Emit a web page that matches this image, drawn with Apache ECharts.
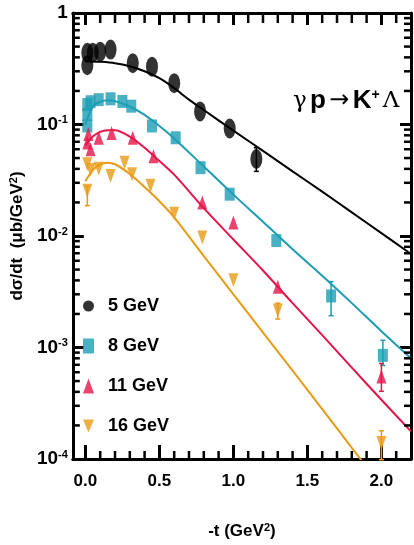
<!DOCTYPE html>
<html>
<head>
<meta charset="utf-8">
<script src="https://cdn.jsdelivr.net/npm/echarts@6/dist/echarts.min.js"></script>
<style>
html,body{margin:0;padding:0;background:#fff;}
#chart{width:414px;height:545px;}
</style>
</head>
<body>
<div id="chart"></div>
<script>
// ---- data (t in GeV^2, dsigma/dt in ub/GeV^2) ----
var seriesNames = ['5 GeV', '8 GeV', '11 GeV', '16 GeV'];

var pts5 = [[0.013,0.44],[0.013,0.34],[0.05,0.44],[0.10,0.45],[0.17,0.47],[0.32,0.355],[0.45,0.33],[0.60,0.235],[0.775,0.131],[0.975,0.092],[1.155,0.049]];
var pts8 = [[0.013,0.151],[0.013,0.123],[0.013,0.097],[0.035,0.16],[0.09,0.167],[0.17,0.17],[0.25,0.161],[0.31,0.146],[0.45,0.097],[0.61,0.076],[0.778,0.041],[0.975,0.0237],[1.29,0.0091],[1.66,0.0029],[2.01,0.00085]];
var pts11 = [[0.013,0.069],[0.02,0.082],[0.035,0.060],[0.09,0.076],[0.177,0.084],[0.32,0.076],[0.46,0.052],[0.79,0.020],[1.0,0.0132],[1.30,0.0035],[2.0,0.00055]];
var pts16 = [[0.013,0.0254],[0.013,0.044],[0.035,0.039],[0.09,0.040],[0.17,0.0346],[0.265,0.0455],[0.315,0.0358],[0.44,0.0282],[0.60,0.0158],[0.79,0.0097],[1.0,0.0040],[1.30,0.00215],[2.0,0.000139]];

// error bars: [t, low, high]
var err5 = [[1.155,0.038,0.062]];
var err8 = [[1.66,0.00193,0.0039],[2.01,0.00069,0.00116]];
var err11 = [[2.0,0.000405,0.00072]];
var err16 = [[0.013,0.0187,0.028],[1.30,0.0018,0.0025],[2.0,0.0000986,0.000179]];

// model curves
var curve5 = [[0.0,0.37],[0.1,0.365],[0.2,0.355],[0.3,0.333],[0.4,0.30],[0.5,0.26],[0.6,0.212],[0.7,0.167],[0.8,0.135],[1.0,0.088],[1.2,0.058],[1.4,0.038],[1.6,0.025],[1.8,0.0163],[2.0,0.0106],[2.2,0.0069]];
var curve8 = [[0.0,0.10],[0.05,0.145],[0.1,0.16],[0.15,0.165],[0.2,0.162],[0.3,0.145],[0.4,0.122],[0.5,0.097],[0.6,0.075],[0.8,0.042],[1.0,0.0235],[1.2,0.0134],[1.4,0.0076],[1.6,0.0044],[1.8,0.0025],[2.0,0.0014],[2.2,0.0008]];
var curve11 = [[0.0,0.065],[0.05,0.078],[0.1,0.086],[0.15,0.089],[0.2,0.089],[0.3,0.078],[0.4,0.062],[0.5,0.047],[0.6,0.0355],[0.8,0.0178],[1.0,0.0093],[1.2,0.0049],[1.4,0.0025],[1.6,0.00129],[1.8,0.00066],[2.0,0.00034],[2.2,0.000177]];
var curve16 = [[0.0,0.031],[0.05,0.039],[0.1,0.044],[0.15,0.0455],[0.2,0.044],[0.3,0.036],[0.4,0.0275],[0.5,0.0205],[0.6,0.0147],[0.8,0.0066],[1.0,0.0030],[1.2,0.00136],[1.4,0.00062],[1.6,0.00028],[1.8,0.000126],[1.9,0.000085]];

// axis ranges and ticks
var xMin = -0.085, xMax = 2.2, yMin = 1e-4, yMax = 1;
var xMajor = [0, 0.5, 1.0, 1.5, 2.0];
var xMinor = [0.1,0.2,0.3,0.4,0.6,0.7,0.8,0.9,1.1,1.2,1.3,1.4,1.6,1.7,1.8,1.9,2.1];
var yDecadeValues = [1e-4, 1e-3, 1e-2, 1e-1];
var yMinorMultipliers = [2, 3, 4, 5, 6, 7, 8, 9];

var yMinorTicks = [];
yDecadeValues.forEach(function (d) { yMinorMultipliers.forEach(function (m) { yMinorTicks.push([0.5, d * m]); }); });
var xMinorTicks = xMinor.map(function (v) { return [v, 0.01]; });

var colors = ['#000000', '#1b9db4', '#e5154a', '#e89b14'];
var FONT = '"Liberation Sans", Arial, sans-serif';

var chart = echarts.init(document.getElementById('chart'), null, {renderer: 'canvas'});

function errSeries(data, color) {
  return {
    type: 'custom', xAxisIndex: 0, yAxisIndex: 0, silent: true, z: 3,
    encode: {x: 0, y: [1, 2]},
    data: data,
    renderItem: function (params, api) {
      var a = api.coord([api.value(0), api.value(1)]);
      var b = api.coord([api.value(0), api.value(2)]);
      var st = {stroke: color, lineWidth: 1.5};
      return {type: 'group', children: [
        {type: 'line', shape: {x1: a[0], y1: a[1], x2: b[0], y2: b[1]}, style: st},
        {type: 'line', shape: {x1: a[0]-2.5, y1: a[1], x2: a[0]+2.5, y2: a[1]}, style: st},
        {type: 'line', shape: {x1: b[0]-2.5, y1: b[1], x2: b[0]+2.5, y2: b[1]}, style: st}
      ]};
    }
  };
}
function minorTickSeries(data, dir) {
  return {
    type: 'custom', xAxisIndex: 0, yAxisIndex: 0, silent: true, z: 5, clip: false,
    encode: {x: 0, y: 1},
    data: data,
    renderItem: function (params, api) {
      var st = {stroke: '#000', lineWidth: 2.5};
      if (dir === 'y') {
        var v = api.value(1);
        var l = api.coord([xMin, v]);
        var r = api.coord([xMax, v]);
        var L = 7;
        return {type: 'group', children: [
          {type: 'line', shape: {x1: l[0], y1: l[1], x2: l[0] + L, y2: l[1]}, style: st},
          {type: 'line', shape: {x1: r[0] - L, y1: r[1], x2: r[0], y2: r[1]}, style: st}
        ]};
      }
      var u = api.value(0);
      var b = api.coord([u, yMin]);
      var t = api.coord([u, yMax]);
      return {type: 'group', children: [
        {type: 'line', shape: {x1: b[0], y1: b[1], x2: b[0], y2: b[1] - 8}, style: st},
        {type: 'line', shape: {x1: t[0], y1: t[1], x2: t[0], y2: t[1] + 10}, style: st}
      ]};
    }
  };
}
function curveSeries(data, color) {
  return {type: 'line', xAxisIndex: 0, yAxisIndex: 0, data: data, showSymbol: false, smooth: 0.3,
    silent: true, lineStyle: {color: color, width: 2}, z: 2, clip: true};
}
var downTri = 'path://M0,0L10,0L5,12Z';
function ptSeries(name, data, color, symbol, size) {
  return {type: 'scatter', name: name, xAxisIndex: 0, yAxisIndex: 0, data: data,
    symbol: symbol, symbolSize: size, itemStyle: {color: color}, z: 4};
}

var axisLineStyle = {color: '#000', width: 3};
var majorTickStyle = {color: '#000', width: 3};

var option = {
  animation: false,
  backgroundColor: '#fff',
  grid: {left: 65, right: 3, top: 13, bottom: 85, containLabel: false},
  legend: {
    orient: 'vertical', left: 78, top: 292, itemWidth: 11, itemHeight: 15, itemGap: 22,
    data: seriesNames,
    textStyle: {fontFamily: FONT, fontWeight: 'bold', fontSize: 18, color: '#000', padding: [0,0,0,9]}
  },
  xAxis: [
    {type: 'value', min: xMin, max: xMax, position: 'bottom',
      axisLine: {show: true, onZero: false, lineStyle: axisLineStyle},
      axisTick: {show: true, inside: true, length: 14, customValues: xMajor, lineStyle: majorTickStyle},
      axisLabel: {show: true, customValues: xMajor, margin: 14, fontFamily: FONT, fontWeight: 'bold', fontSize: 17, color: '#000',
        formatter: function (v) { return v.toFixed(1); }},
      splitLine: {show: false},
      name: '-t (GeV{sup|2})', nameLocation: 'middle', nameGap: 63,
      nameTextStyle: {fontFamily: FONT, fontWeight: 'bold', fontSize: 17, color: '#000',
        rich: {sup: {fontFamily: FONT, fontWeight: 'bold', fontSize: 11, color: '#000', verticalAlign: 'top', padding: [0,0,8,0]}}}
    },
    {type: 'value', min: xMin, max: xMax, position: 'top',
      axisLine: {show: true, onZero: false, lineStyle: axisLineStyle},
      axisTick: {show: true, inside: true, length: 12, customValues: xMajor, lineStyle: majorTickStyle},
      axisLabel: {show: false}, splitLine: {show: false}}
  ],
  yAxis: [
    {type: 'log', logBase: 10, min: yMin, max: yMax, position: 'left',
      axisLine: {show: true, onZero: false, lineStyle: axisLineStyle},
      axisTick: {show: true, inside: true, length: 11, lineStyle: majorTickStyle},
      axisLabel: {show: true, margin: 5, color: '#000',
        formatter: function (v) {
          var e = Math.round(Math.log10(v));
          if (e === 0) return '{b|1}';
          return '{b|10}{s|' + e + '}';
        },
        rich: {
          b: {fontFamily: FONT, fontWeight: 'bold', fontSize: 19, color: '#000'},
          s: {fontFamily: FONT, fontWeight: 'bold', fontSize: 11, color: '#000', verticalAlign: 'top', padding: [0,0,9,0]}
        }},
      splitLine: {show: false},
      name: 'd\u03c3/dt  (\u03bcb/GeV{sup|2})', nameLocation: 'middle', nameGap: 42, nameRotate: 90,
      nameTextStyle: {fontFamily: FONT, fontWeight: 'bold', fontSize: 17, color: '#000',
        rich: {sup: {fontFamily: FONT, fontWeight: 'bold', fontSize: 11, color: '#000', verticalAlign: 'top', padding: [0,0,8,0]}}}
    },
    {type: 'log', logBase: 10, min: yMin, max: yMax, position: 'right',
      axisLine: {show: true, onZero: false, lineStyle: axisLineStyle},
      axisTick: {show: true, inside: true, length: 11, lineStyle: majorTickStyle},
      axisLabel: {show: false}, splitLine: {show: false}}
  ],
  graphic: [{
    type: 'text', left: 293, top: 88, z: 10,
    style: {
      text: '{g|\u03b3} {b|p} {a|\u2192} {b|K}{sp|+}{g|\u039b}',
      rich: {
        g: {fontFamily: 'DejaVu Serif', fontSize: 23, fill: '#000'},
        b: {fontFamily: FONT, fontWeight: 'bold', fontSize: 26, fill: '#000'},
        a: {fontFamily: 'DejaVu Sans', fontSize: 24, fill: '#000'},
        sp: {fontFamily: FONT, fontWeight: 'bold', fontSize: 14, fill: '#000', verticalAlign: 'top', padding: [0,3,12,0]}
      }
    }
  }],
  series: [
    curveSeries(curve5, colors[0]),
    curveSeries(curve8, colors[1]),
    curveSeries(curve11, colors[2]),
    curveSeries(curve16, colors[3]),
    errSeries(err5, colors[0]),
    errSeries(err8, colors[1]),
    errSeries(err11, colors[2]),
    errSeries(err16, colors[3]),
    minorTickSeries(yMinorTicks, 'y'),
    minorTickSeries(xMinorTicks, 'x'),
    ptSeries(seriesNames[0], pts5, colors[0], 'circle', [12, 20]),
    ptSeries(seriesNames[1], pts8, colors[1], 'rect', [10, 13]),
    ptSeries(seriesNames[2], pts11, colors[2], 'triangle', [10, 14]),
    ptSeries(seriesNames[3], pts16, colors[3], downTri, [10, 14])
  ]
};
chart.setOption(option);
</script>
</body>
</html>
